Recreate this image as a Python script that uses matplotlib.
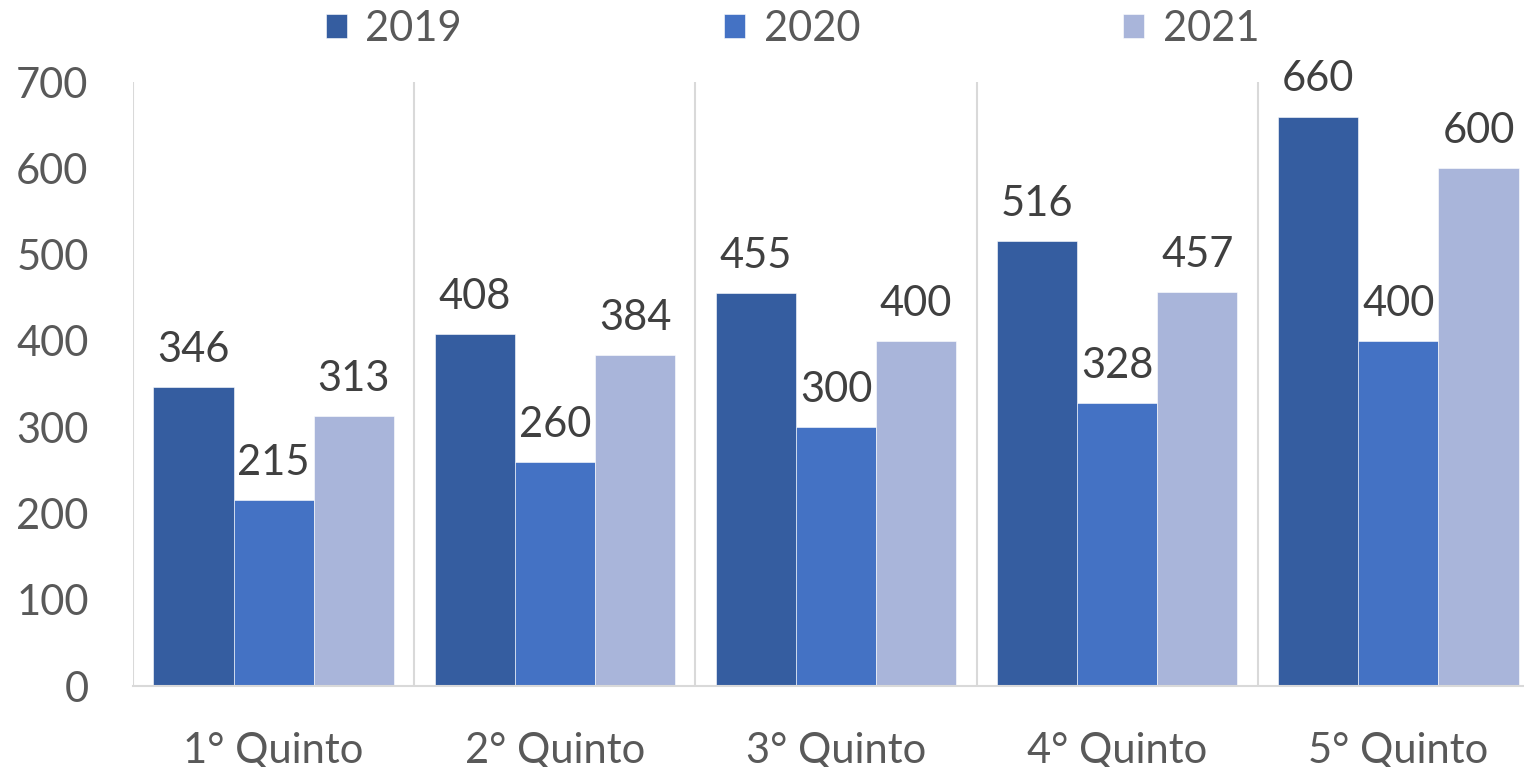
import numpy as np
import matplotlib
matplotlib.use("Agg")
import matplotlib.pyplot as plt

categories = ["1° Quinto", "2° Quinto", "3° Quinto", "4° Quinto", "5° Quinto"]
series_names = ["2019", "2020", "2021"]
values_2019 = [346, 408, 455, 516, 660]
values_2020 = [215, 260, 300, 328, 400]
values_2021 = [313, 384, 400, 457, 600]
yticks = [0, 100, 200, 300, 400, 500, 600, 700]

colors = ["#355DA0", "#4472C4", "#A9B5DA"]
text_color = "#595959"
label_color = "#404040"
grid_color = "#D9D9D9"

plt.rcParams["font.family"] = ["Lato", "DejaVu Sans"]

fig = plt.figure(figsize=(15.24, 7.67), dpi=100)
# plot area runs a little past the right edge of the figure, as in the original
ax = fig.add_axes([133 / 1524, 1 - 686 / 767, (1539 - 133) / 1524, (686 - 82) / 767])

x = np.arange(len(categories))
width = 0.285
for i, (name, vals) in enumerate(zip(series_names, [values_2019, values_2020, values_2021])):
    bars = ax.bar(x + (i - 1) * width, vals, width, color=colors[i], label=name,
                  edgecolor="white", linewidth=0.4, zorder=2)
    ax.bar_label(bars, labels=[str(v) for v in vals], padding=13,
                 fontsize=30, color=label_color)

# vertical separators between categories
for b in np.arange(len(categories)) - 0.5:
    ax.axvline(b, color=grid_color, linewidth=1.5, zorder=1)

ax.set_xlim(-0.5, len(categories) - 0.5)
ax.set_ylim(0, 700)
ax.set_yticks(yticks)
ax.set_xticks(x)
ax.set_xticklabels(categories)
ax.tick_params(axis="both", length=0, labelsize=30, labelcolor=text_color)
ax.tick_params(axis="y", pad=32)
ax.tick_params(axis="x", pad=33)

for side in ["top", "right", "left"]:
    ax.spines[side].set_visible(False)
ax.spines["bottom"].set_color(grid_color)
ax.spines["bottom"].set_linewidth(1.5)
ax.spines["bottom"].set_zorder(3)

leg = fig.legend(loc="center", bbox_to_anchor=(0.52, 0.962), ncol=3, frameon=False,
                 fontsize=30, handlelength=0.5, handleheight=0.5, handletextpad=0.45,
                 columnspacing=6.3)
for t in leg.get_texts():
    t.set_color(text_color)

fig.savefig("out.png", dpi=100)
